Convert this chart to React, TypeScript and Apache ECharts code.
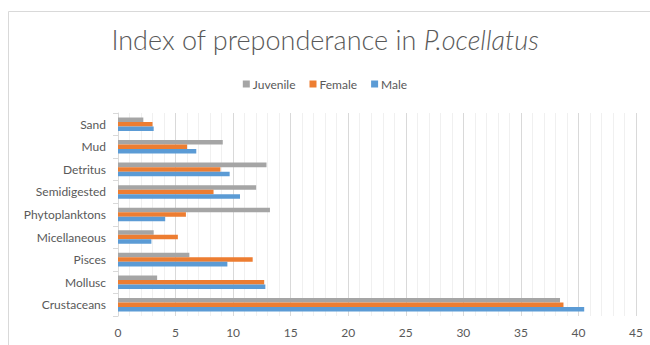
import React, { useEffect, useRef } from "react";
import * as echarts from "echarts";

const categories = ["Crustaceans", "Mollusc", "Pisces", "Micellaneous", "Phytoplanktons", "Semidigested", "Detritus", "Mud", "Sand"];
const male = [40.5, 12.8, 9.5, 2.9, 4.1, 10.6, 9.7, 6.8, 3.1];
const female = [38.7, 12.7, 11.7, 5.2, 5.9, 8.3, 8.9, 6.0, 3.0];
const juvenile = [38.4, 3.4, 6.2, 3.1, 13.2, 12.0, 12.9, 9.1, 2.2];

const FONT = "Lato, 'Open Sans', sans-serif";
const TXT = "#595959";

export default function App() {
  const ref = useRef<HTMLDivElement>(null);
  useEffect(() => {
    const chart = echarts.init(ref.current!, null, { renderer: "svg" });
    chart.setOption({
      animation: false,
      backgroundColor: "#ffffff",
      textStyle: { fontFamily: FONT },
      title: {
        text: "{a|Index of preponderance in }{b|P.ocellatus}",
        left: "center",
        top: 21,
        textStyle: {
          rich: {
            a: { fontSize: 27, color: TXT, fontFamily: FONT, fontWeight: 300 },
            b: { fontSize: 27, color: TXT, fontFamily: FONT, fontStyle: "italic", fontWeight: 300 },
          },
        },
      },
      legend: {
        top: 73,
        left: "center",
        itemWidth: 7,
        itemHeight: 7,
        itemGap: 14,
        icon: "rect",
        textStyle: { fontSize: 12, color: TXT, fontFamily: FONT, padding: [0, 0, 0, -2] },
        data: ["Juvenile", "Female", "Male"],
      },
      graphic: [
        {
          type: "rect",
          shape: { x: 8.5, y: 11.5, width: 700, height: 400 },
          style: { fill: "none", stroke: "#d9d9d9", lineWidth: 1 },
          silent: true,
        },
      ],
      grid: { left: 118, right: 14, top: 113, bottom: 29 },
      xAxis: {
        type: "value",
        min: 0,
        max: 45,
        interval: 5,
        axisLine: { show: false },
        axisTick: { show: false },
        axisLabel: { color: TXT, fontSize: 12, fontFamily: FONT, margin: 10 },
        splitLine: { show: true, lineStyle: { color: "#d9d9d9", width: 1 } },
        minorTick: { show: false, splitNumber: 5 },
        minorSplitLine: { show: true, lineStyle: { color: "#f0f0f0", width: 1 } },
      },
      yAxis: {
        type: "category",
        data: categories,
        axisLine: { show: true, lineStyle: { color: "#d9d9d9" } },
        axisTick: { show: true, length: 5, lineStyle: { color: "#d9d9d9" } },
        axisLabel: { color: TXT, fontSize: 12, fontFamily: FONT, margin: 12 },
      },
      series: [
        { name: "Juvenile", type: "bar", data: juvenile, itemStyle: { color: "#a5a5a5" }, barGap: "0%", barCategoryGap: "40%" },
        { name: "Female", type: "bar", data: female, itemStyle: { color: "#ed7d31" }, barGap: "0%", barCategoryGap: "40%" },
        { name: "Male", type: "bar", data: male, itemStyle: { color: "#5b9bd5" }, barGap: "0%", barCategoryGap: "40%" },
      ],
    });
    return () => chart.dispose();
  }, []);
  return <div ref={ref} style={{ width: 650, height: 345, position: "absolute", left: 0, top: 0 }} />;
}
